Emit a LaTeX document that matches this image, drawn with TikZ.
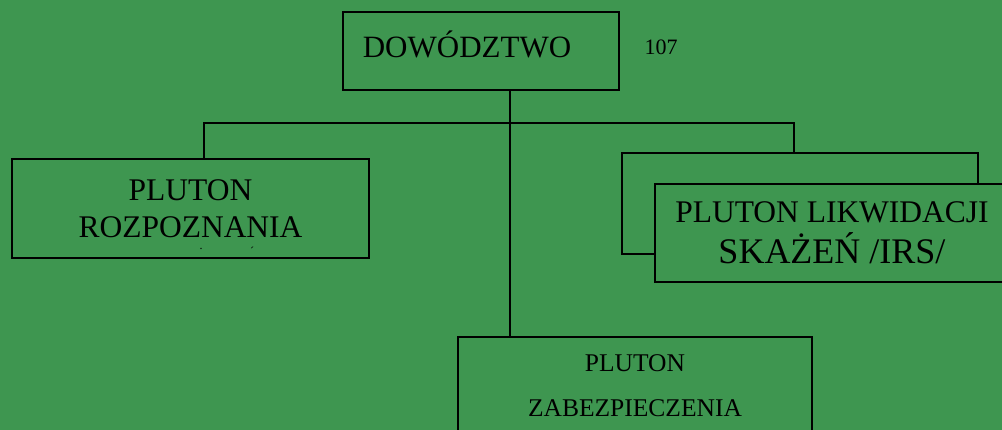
\documentclass[tikz,border=0pt]{standalone}
\usepackage{fontspec}
\setmainfont{Liberation Serif}
\usepackage{tikz}
\usetikzlibrary{positioning}
\definecolor{boardgreen}{RGB}{62,150,80}

\tikzset{
  unitbox/.style={draw=black,line width=2.6pt,fill=boardgreen,inner sep=0pt,align=center},
  bigtxt/.style={font=\fontsize{31.5}{37}\selectfont},
  smalltxt/.style={font=\fontsize{25.5}{45}\selectfont},
  link/.style={line width=2.6pt}
}

\begin{document}
\begin{tikzpicture}[x=1pt,y=-1pt]
\fill[boardgreen] (0,0) rectangle (1002,430);
\useasboundingbox (0,0) rectangle (1002,430);

% command
\node[unitbox,minimum width=276pt,minimum height=78pt] (dow) at (481,51) {};
\node[font=\fontsize{31}{37}\selectfont] (dowtxt) at (467,44) {DOWÓDZTWO};
\node[font=\fontsize{22}{26}\selectfont] (num) at (661,47) {107};

% platoons
\node[unitbox,bigtxt,minimum width=357pt,minimum height=99pt] (roz) at (190.5,208.5) {PLUTON\\ROZPOZNANIA};
\node[font=\fontsize{12}{14}\selectfont,inner sep=0pt] (dotA) at (201,249) {.};
\node[font=\fontsize{12}{14}\selectfont,inner sep=0pt] (dotB) at (252,251) {´};

\node[unitbox,minimum width=356pt,minimum height=101pt] (likb) at (800,203.5) {};
\node[unitbox,font=\fontsize{31.5}{41}\selectfont,minimum width=354pt,minimum height=98pt] (lik) at (832,233)
  {PLUTON LIKWIDACJI\\{\fontsize{36}{41}\selectfont SKAŻEŃ /IRS/}};

\node[unitbox,smalltxt,minimum width=354pt,minimum height=97pt] (zab) at (635,385.5) {PLUTON\\ZABEZPIECZENIA};

% connectors
\coordinate (trunk) at (510,123);
\coordinate (jl) at (204,123);
\coordinate (jr) at (794,123);
\draw[link] (dow.south -| trunk) -- (trunk |- zab.north);
\draw[link] (jl |- roz.north) -- (jl) -- (jr) -- (jr |- likb.north);
\end{tikzpicture}
\end{document}
